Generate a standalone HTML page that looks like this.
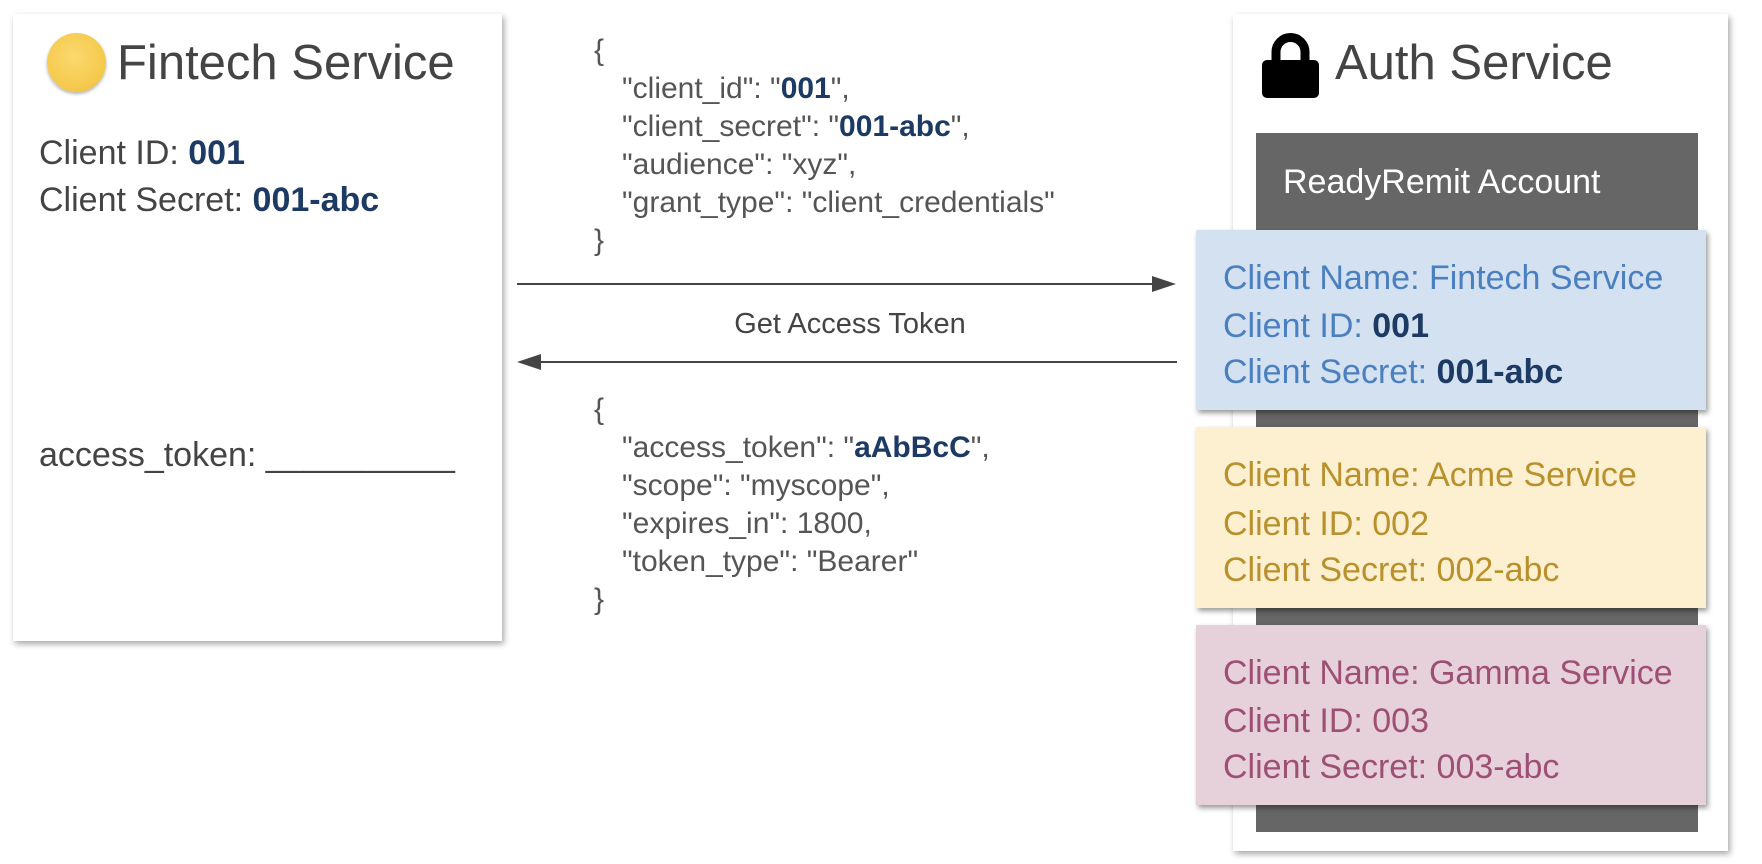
<!DOCTYPE html>
<html><head><meta charset="utf-8"><style>
body{margin:0;width:1762px;height:864px;background:#fff;position:relative;overflow:hidden;font-family:"Liberation Sans",sans-serif}
.a{position:absolute}
.box{background:#fff;box-shadow:2px 3px 6px rgba(0,0,0,.35)}
.h{font-size:49px;color:#444;white-space:nowrap;line-height:1}
.t{font-size:34px;white-space:nowrap;line-height:1}
.j{font-size:30px;color:#555;white-space:pre;line-height:38px}
.j div{padding-left:28px}
.n{color:#1c3a63;font-weight:bold}
.card{box-shadow:2px 3px 5px rgba(0,0,0,.4)}
</style></head><body>
<div class="a box" style="left:13px;top:14px;width:489px;height:627px"></div>
<div class="a" style="left:47px;top:33px;width:59px;height:59px;border-radius:50%;background:radial-gradient(circle at 45% 40%,#fbd96e,#f4c84a 70%,#d9a530);box-shadow:0 2px 3px rgba(0,0,0,.3)"></div>
<div class="a h" style="left:117px;top:39px">Fintech Service</div>
<div class="a t" style="left:39px;top:136px;color:#444">Client ID: <span class="n">001</span></div>
<div class="a t" style="left:39px;top:183px;color:#444">Client Secret: <span class="n">001-abc</span></div>
<div class="a t" style="left:39px;top:438px;color:#444">access_token: __________</div>

<div class="a box" style="left:1233px;top:14px;width:495px;height:837px"></div>
<svg class="a" style="left:1262px;top:30px" width="57" height="68"><path d="M14 32V22a14.5 14.5 0 0 1 29 0v10" fill="none" stroke="#000" stroke-width="9"/><rect x="0" y="30" width="57" height="38" rx="5" fill="#000"/></svg>
<div class="a h" style="left:1335px;top:39px">Auth Service</div>
<div class="a" style="left:1256px;top:133px;width:442px;height:699px;background:#666"></div>
<div class="a t" style="left:1283px;top:165px;color:#fff">ReadyRemit Account</div>

<div class="a card" style="left:1196px;top:230px;width:510px;height:180px;background:#d4e1f1"></div>
<div class="a t" style="left:1223px;top:261px;color:#4a7fc0">Client Name: Fintech Service</div>
<div class="a t" style="left:1223px;top:309px;color:#4a7fc0">Client ID: <span class="n">001</span></div>
<div class="a t" style="left:1223px;top:355px;color:#4a7fc0">Client Secret: <span class="n">001-abc</span></div>

<div class="a card" style="left:1196px;top:427px;width:510px;height:181px;background:#fcf0d0"></div>
<div class="a t" style="left:1223px;top:458px;color:#b8902c">Client Name: Acme Service</div>
<div class="a t" style="left:1223px;top:507px;color:#b8902c">Client ID: 002</div>
<div class="a t" style="left:1223px;top:553px;color:#b8902c">Client Secret: 002-abc</div>

<div class="a card" style="left:1196px;top:625px;width:510px;height:180px;background:#e6d1db"></div>
<div class="a t" style="left:1223px;top:656px;color:#9e4f74">Client Name: Gamma Service</div>
<div class="a t" style="left:1223px;top:704px;color:#9e4f74">Client ID: 003</div>
<div class="a t" style="left:1223px;top:750px;color:#9e4f74">Client Secret: 003-abc</div>

<svg class="a" style="left:0;top:0" width="1762" height="864">
<line x1="517" y1="284" x2="1160" y2="284" stroke="#444" stroke-width="2"/>
<polygon points="1176,284 1152,276 1152,292" fill="#444"/>
<line x1="533" y1="362" x2="1177" y2="362" stroke="#444" stroke-width="2"/>
<polygon points="517,362 541,354 541,370" fill="#444"/>
</svg>
<div class="a" style="left:650px;top:308px;width:400px;text-align:center;font-size:29px;color:#444">Get Access Token</div>

<div class="a j" style="left:594px;top:32px">{<div>"client_id": "<span class="n">001</span>",</div><div>"client_secret": "<span class="n">001-abc</span>",</div><div>"audience": "xyz",</div><div>"grant_type": "client_credentials"</div>}</div>
<div class="a j" style="left:594px;top:391px">{<div>"access_token": "<span class="n">aAbBcC</span>",</div><div>"scope": "myscope",</div><div>"expires_in": 1800,</div><div>"token_type": "Bearer"</div>}</div>
</body></html>
